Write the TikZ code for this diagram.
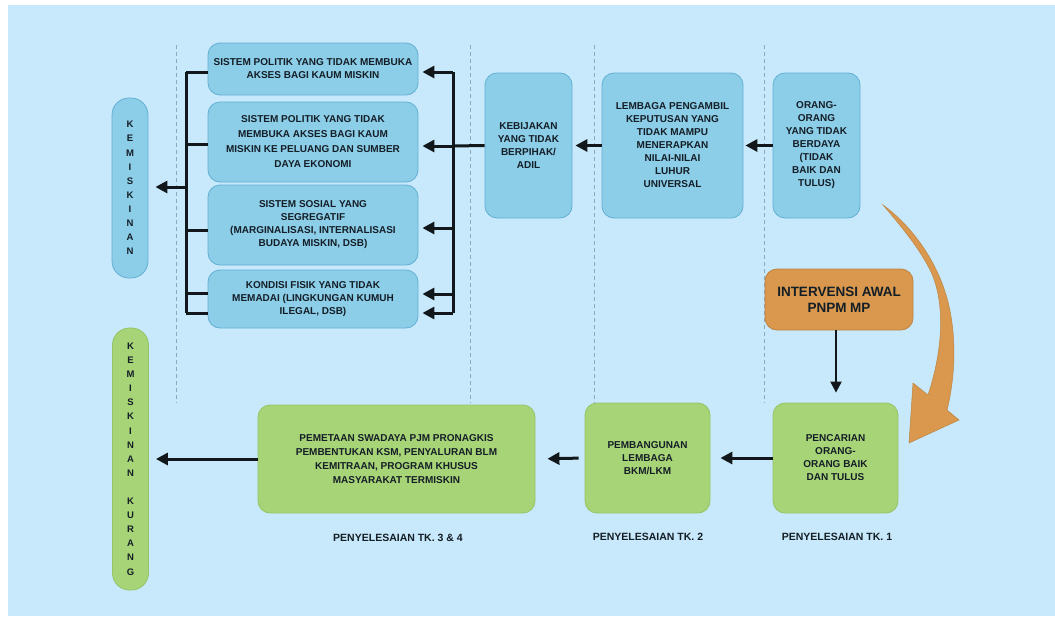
\documentclass[tikz,border=0pt]{standalone}
\usepackage{fontspec}
\setmainfont{Liberation Sans}
\usetikzlibrary{arrows.meta,positioning}
\definecolor{bgc}{HTML}{C8E9FB}
\definecolor{bluec}{HTML}{8CCDE8}
\definecolor{blued}{HTML}{62AFD3}
\definecolor{greenc}{HTML}{A8D478}
\definecolor{greend}{HTML}{93C466}
\definecolor{orgc}{HTML}{D9984E}
\definecolor{orgd}{HTML}{BC8442}
\definecolor{txtc}{HTML}{141E26}
\definecolor{dashc}{HTML}{8FA9BA}
\definecolor{linec}{HTML}{11171B}
\tikzset{
  ar/.style={-{Triangle[length=12pt,width=12pt]},line width=3pt,linec},
  ln/.style={line width=3pt,linec},
  bbox/.style={draw=blued,fill=bluec,line width=0.8pt,rounded corners=12pt,align=center,
    text=txtc,inner sep=2pt,font=\bfseries\fontsize{10}{13}\selectfont},
  gbox/.style={bbox,draw=greend,fill=greenc},
  obox/.style={bbox,draw=orgd,fill=orgc,font=\bfseries\fontsize{13.5}{16}\selectfont},
  pill/.style={bbox,rounded corners=17pt,minimum width=36pt,font=\bfseries\fontsize{9.5}{14.1}\selectfont},
  lbl/.style={font=\bfseries\fontsize{10.5}{12}\selectfont,text=txtc},
  sep/.style={draw=dashc,line width=0.7pt,dash pattern=on 4pt off 3pt}
}
\begin{document}
\begin{tikzpicture}[x=1pt,y=-1pt]
\useasboundingbox (0,0) rectangle (1055,616);
\fill[white] (0,0) rectangle (1055,616);
\fill[bgc] (8,5) rectangle (1055,616);
% column separators
\foreach \xx in {176,470,594,764}
  \draw[sep] (\xx,45) -- (\xx,403);
% left column
\node[pill,minimum height=180pt] (kem) at (130,188) {K\\E\\M\\I\\S\\K\\I\\N\\A\\N};
\node[bbox,minimum width=210pt,minimum height=52pt] (p1) at (313,69)
  {SISTEM POLITIK YANG TIDAK MEMBUKA\\AKSES BAGI KAUM MISKIN};
\node[bbox,minimum width=210pt,minimum height=80pt,font=\bfseries\fontsize{10}{15}\selectfont] (p2) at (313,142)
  {SISTEM POLITIK YANG TIDAK\\MEMBUKA AKSES BAGI KAUM\\MISKIN KE PELUANG DAN SUMBER\\DAYA EKONOMI};
\node[bbox,minimum width=210pt,minimum height=80pt] (p3) at (313,225)
  {SISTEM SOSIAL YANG\\SEGREGATIF\\(MARGINALISASI, INTERNALISASI\\BUDAYA MISKIN, DSB)};
\node[bbox,minimum width=210pt,minimum height=58pt] (p4) at (313,299)
  {KONDISI FISIK YANG TIDAK\\MEMADAI (LINGKUNGAN KUMUH\\ILEGAL, DSB)};
% top row
\node[bbox,minimum width=87pt,minimum height=145pt] (kebij) at (528.5,145.5)
  {KEBIJAKAN\\YANG TIDAK\\BERPIHAK/\\ADIL};
\node[bbox,minimum width=141pt,minimum height=145pt] (lemb) at (672.5,145.5)
  {LEMBAGA PENGAMBIL\\KEPUTUSAN YANG\\TIDAK MAMPU\\MENERAPKAN\\NILAI-NILAI\\LUHUR\\UNIVERSAL};
\node[bbox,minimum width=87pt,minimum height=145pt] (orang) at (816.5,145.5)
  {ORANG-\\ORANG\\YANG TIDAK\\BERDAYA\\(TIDAK\\BAIK DAN\\TULUS)};
% intervention and bottom row
\node[obox,minimum width=148pt,minimum height=61pt] (interv) at (839,299.5)
  {INTERVENSI AWAL\\PNPM MP};
\node[gbox,minimum width=125pt,minimum height=110pt] (cari) at (835.5,458)
  {PENCARIAN\\ORANG-\\ORANG BAIK\\DAN TULUS};
\node[gbox,minimum width=125pt,minimum height=110pt] (bangun) at (647.5,458)
  {PEMBANGUNAN\\LEMBAGA\\BKM/LKM};
\node[gbox,minimum width=277pt,minimum height=108pt,font=\bfseries\fontsize{10}{14}\selectfont] (petaan) at (396.5,459)
  {PEMETAAN SWADAYA PJM PRONAGKIS\\PEMBENTUKAN KSM, PENYALURAN BLM\\KEMITRAAN, PROGRAM KHUSUS\\MASYARAKAT TERMISKIN};
\node[pill,draw=greend,fill=greenc,minimum height=262pt] (kurang) at (130.5,459)
  {K\\E\\M\\I\\S\\K\\I\\N\\A\\N\\[14.1pt]K\\U\\R\\A\\N\\G};
\node[lbl] (tk34) at (398,538) {PENYELESAIAN TK. 3 \& 4};
\node[lbl] (tk2) at (648,537) {PENYELESAIAN TK. 2};
\node[lbl] (tk1) at (837,537) {PENYELESAIAN TK. 1};
% top flow
\draw[ar,shorten >=2pt] (orang.west) -- (lemb.east);
\draw[ar,shorten >=3pt] (lemb.west) -- (kebij.east);
\coordinate (rb) at (453,146);
\draw[ln] (kebij.west) -- (rb);
\draw[ln] (453,72) -- (453,313);
\foreach \yy/\bx in {72/p1,146/p2,228/p3,294/p4,313/p4}
  \draw[ar,shorten >=4pt] (453,\yy) -- (\bx.east |- 0,\yy);
% left bracket
\coordinate (lb) at (186,187);
\draw[ln] (186,72) -- (186,313);
\foreach \yy/\bx in {72/p1,144/p2,230/p3,293/p4,313/p4}
  \draw[ln] (186,\yy) -- (\bx.west |- 0,\yy);
\draw[ar,shorten >=7pt] (lb) -- (lb -| kem.east);
% bottom flow
\coordinate (dn) at (836,330);
\draw[-{Triangle[length=11pt,width=11pt]},line width=2pt,linec,shorten >=10pt] (dn) -- (dn |- cari.north);
\draw[ar,shorten >=10pt] (cari.west) -- (bangun.east);
\draw[ar,shorten <=6pt,shorten >=12pt] (bangun.west) -- (petaan.east);
\draw[ar,shorten >=7pt] (petaan.west) -- (kurang.east |- petaan.west);
% curved orange arrow
\fill[orgc,draw=orgd,line width=0.5pt] (883,205) .. controls (912,226) and (938,262) .. (948,302)
  .. controls (957,338) and (955,378) .. (947,410) -- (959,420) -- (909,443) -- (913,383) -- (928,395)
  .. controls (943,350) and (945,305) .. (932,274) .. controls (921,250) and (901,226) .. cycle;
\end{tikzpicture}
\end{document}
